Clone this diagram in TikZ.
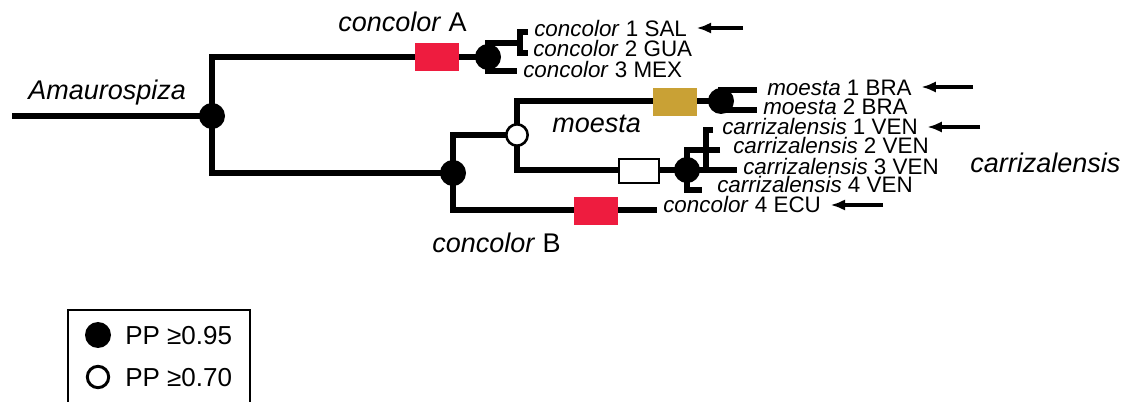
\documentclass[tikz,border=0pt]{standalone}
\usepackage{fontspec}
\setmainfont{Liberation Sans}
\usetikzlibrary{arrows.meta}
\definecolor{rot}{HTML}{EE1C3F}
\definecolor{gold}{HTML}{C9A135}
\begin{document}
\begin{tikzpicture}[>={Latex[length=11pt, width=8.5pt]}, x=0.75pt, y=-0.75pt,
  ast/.style={line width=4.5pt},
  pp95/.style={circle, fill=black, inner sep=0pt, minimum size=19.5pt},
  pp70/.style={circle, draw=black, fill=white, line width=1.9pt, inner sep=0pt, minimum size=16pt},
  merkmal/.style={inner sep=0pt, minimum width=32.5pt, minimum height=21pt},
  blatt/.style={anchor=west, inner sep=0pt, font=\fontsize{16.8}{18}\selectfont, text height=12pt, text depth=0pt},
  klade/.style={anchor=west, inner sep=0pt, font=\fontsize{20.25}{22}\selectfont, text height=14.5pt, text depth=0pt},
  pfeil/.style={->, line width=2.6pt, shorten >=7pt}]
\useasboundingbox (0,0) rectangle (1127,402);
% Knoten
\coordinate (stamm) at (12,116);
\coordinate (w)  at (212,116);
\coordinate (a)  at (488,57);
\coordinate (b)  at (453,173);
\coordinate (m)  at (517,135);
\coordinate (mo) at (721,101);
\coordinate (c)  at (687,170);
% Blaetter
\coordinate (a12) at (520,43);
\coordinate (a1)  at (528,32);
\coordinate (a2)  at (528,53);
\coordinate (a3)  at (517,71);
\coordinate (mo1) at (757,90);
\coordinate (mo2) at (757,110);
\coordinate (c1x) at (706,130);
\coordinate (c1)  at (713,130);
\coordinate (c2)  at (720,150);
\coordinate (c3)  at (737,170);
\coordinate (c4)  at (702,190);
\coordinate (e4)  at (657,210);
% Aeste
\draw[ast] (stamm) -- (w);
\draw[ast] (a) -| (w) |- (b);
\draw[ast] (a12) -| (a) |- (a3);
\draw[ast] (a1) -| (a12) |- (a2);
\draw[ast] (m) -| (b) |- (e4);
\draw[ast] (mo) -| (m) |- (c);
\draw[ast] (mo1) -| (mo) |- (mo2);
\draw[ast] (c2) -| (c) |- (c4);
\draw[ast] (c) -- (c3);
\draw[ast] (c1) -- (c1x) -- (c1x |- c);
% Merkmale auf den Aesten
\node[merkmal, fill=rot]  (boxA)  at (437,57)  {};
\node[merkmal, fill=gold] (boxMo) at (675,102) {};
\node[merkmal, fill=white, draw=black, line width=1.5pt, minimum width=30pt, minimum height=18pt] (boxC) at (639,171) {};
\node[merkmal, fill=rot]  (boxE)  at (596,211) {};
% Stuetzwerte
\node[pp95] (wP)  at (w)  {};
\node[pp95] (aP)  at (a)  {};
\node[pp95] (bP)  at (b)  {};
\node[pp70] (mP)  at (m)  {};
\node[pp95] (moP) at (mo) {};
\node[pp95] (cP)  at (c)  {};
% Taxa
\node[blatt] (t1)  at (534,29)  {\textit{concolor} 1 SAL};
\node[blatt] (t2)  at (533,49)  {\textit{concolor} 2 GUA};
\node[blatt] (t3)  at (523,70)  {\textit{concolor} 3 MEX};
\node[blatt] (t4)  at (767,88)  {\textit{moesta} 1 BRA};
\node[blatt] (t5)  at (763,107) {\textit{moesta} 2 BRA};
\node[blatt] (t6)  at (722,127) {\textit{carrizalensis} 1 VEN};
\node[blatt] (t7)  at (733,146) {\textit{carrizalensis} 2 VEN};
\node[blatt] (t8)  at (743,167) {\textit{carrizalensis} 3 VEN};
\node[blatt] (t9)  at (717,185) {\textit{carrizalensis} 4 VEN};
\node[blatt] (t10) at (663,205) {\textit{concolor} 4 ECU};
% Kladen
\node[klade] (kAm) at (28,90)   {\textit{Amaurospiza}};
\node[klade] (kA)  at (338,22)  {\textit{concolor} A};
\node[klade] (kB)  at (432,243) {\textit{concolor} B};
\node[klade] (kMo) at (552,123) {\textit{moesta}};
\node[klade] (kC)  at (970,163) {\textit{carrizalensis}};
% Pfeile
\coordinate (p1) at (743,28);
\coordinate (p2) at (973,87);
\coordinate (p3) at (980,127);
\coordinate (p4) at (883,205);
\draw[pfeil] (p1) -- (p1 -| t1.east);
\draw[pfeil] (p2) -- (p2 -| t4.east);
\draw[pfeil] (p3) -- (p3 -| t6.east);
\draw[pfeil] (p4) -- (p4 -| t10.east);
% Legende
\draw[line width=1.5pt] (68,310) rectangle (250,430);
\node[pp95] (l95) at (98,335) {};
\node[pp70, line width=2.2pt] (l70) at (98,377) {};
\node[klade, font=\fontsize{19.5}{21}\selectfont, text height=14pt] (tl95) at (125,335) {PP ≥0.95};
\node[klade, font=\fontsize{19.5}{21}\selectfont, text height=14pt] (tl70) at (125,377) {PP ≥0.70};
\end{tikzpicture}
\end{document}
